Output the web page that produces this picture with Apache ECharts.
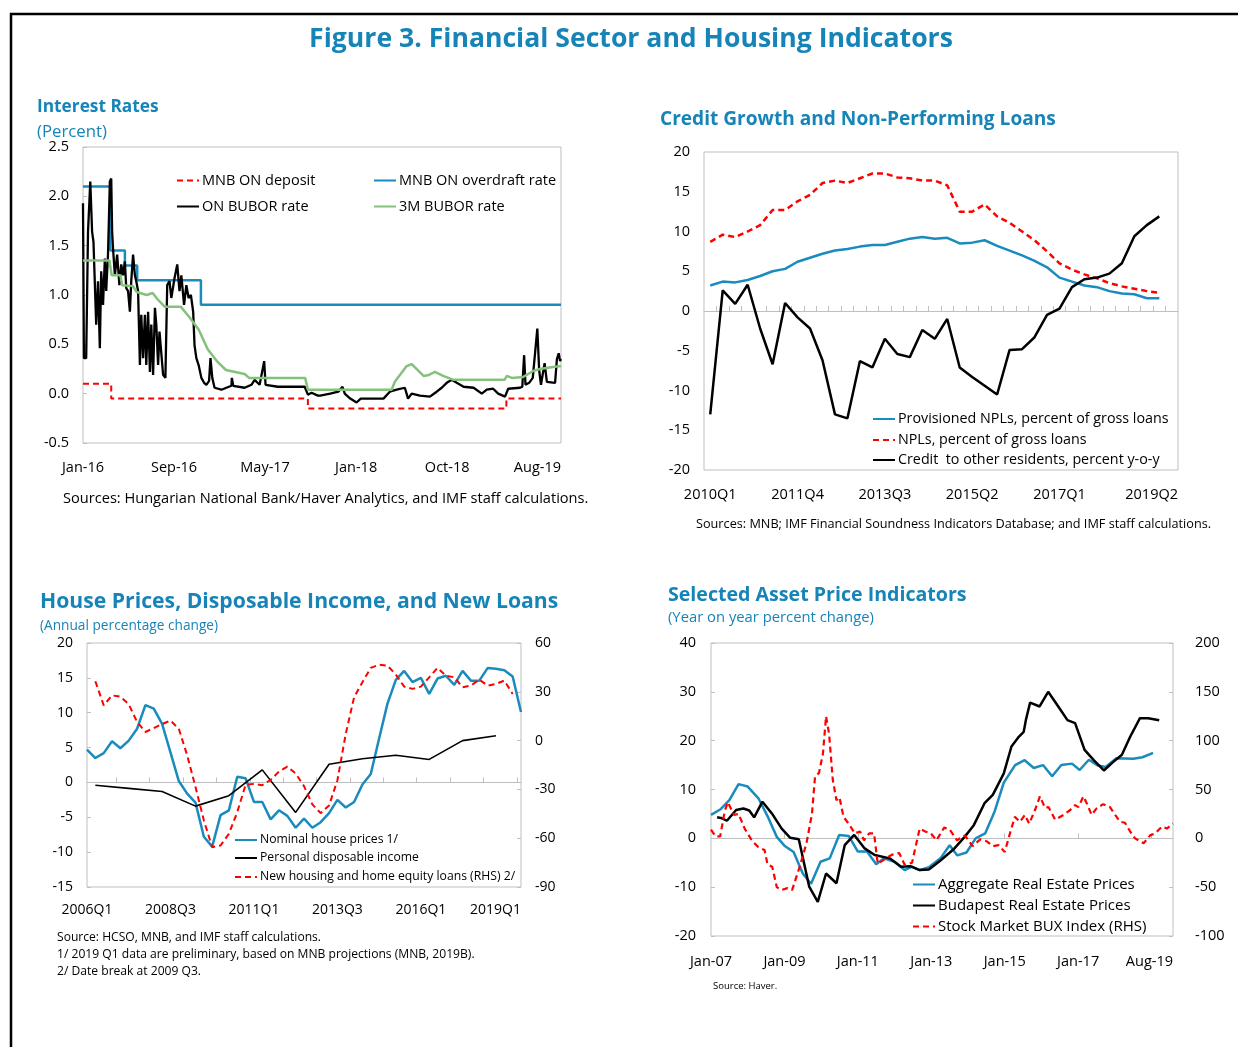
<!DOCTYPE html>
<html>
<head>
<meta charset="utf-8">
<title>Figure 3. Financial Sector and Housing Indicators</title>
<script src="https://cdn.jsdelivr.net/npm/echarts@6/dist/echarts.min.js"></script>
<style>
  html, body { margin: 0; padding: 0; background: #fff; }
  #fig { width: 1238px; height: 1047px; }
</style>
</head>
<body>
<div id="fig"></div>
<script>
// ---------- Interest rates (x = position along the daily sample) ----------
const rateTicks = [0, 20, 40, 60, 80, 105];
const rateTickLabels = ['Jan-16', 'Sep-16', 'May-17', 'Jan-18', 'Oct-18', 'Aug-19'];
const mnbDeposit = [[0, 0.1], [6.2, -0.05], [49.4, -0.15], [93, -0.05], [105, -0.05]];
const mnbOverdraft = [[0, 2.1], [6, 1.45], [9.2, 1.3], [11.9, 1.15], [25.9, 0.9], [105, 0.9]];
const onBubor = [
  [0, 1.93], [0.2, 0.36], [0.7, 0.36], [1.1, 1.64], [1.6, 2.15], [2, 1.64], [2.3, 1.54], [2.9, 0.7],
  [3.3, 1.14], [3.7, 0.46], [4, 1.24], [4.4, 0.9], [4.8, 1.37], [5.1, 1.04], [5.5, 1.42], [5.9, 2.15],
  [6.2, 2.18], [6.4, 1.64], [6.6, 1.47], [7, 1.2], [7.5, 1.41], [8, 1.1], [8.4, 1.31], [8.8, 1.2],
  [9.2, 1.34], [9.5, 1.07], [9.9, 1.04], [10.3, 0.83], [10.6, 1.14], [11, 1.41], [11.4, 1.2], [11.7, 1.14],
  [12.1, 1.04], [12.5, 0.29], [12.8, 0.8], [13.2, 0.36], [13.6, 0.8], [13.9, 0.29], [14.3, 0.83], [14.7, 0.22],
  [15, 0.7], [15.4, 0.19], [15.8, 0.87], [16.1, 0.7], [16.5, 0.29], [16.8, 0.63], [17.6, 0.19], [18.1, 0.16],
  [18.5, 1.1], [19, 1.14], [19.4, 0.97], [20.1, 1.17], [20.7, 1.31], [21.2, 1.04], [21.6, 1.2], [22.2, 0.9],
  [22.7, 1.1], [23.2, 0.97], [23.7, 1.0], [24.2, 0.83], [24.5, 0.49], [24.9, 0.36], [25.4, 0.29], [26, 0.16],
  [26.6, 0.11], [27.1, 0.09], [27.7, 0.13], [28, 0.36], [28.4, 0.16], [28.9, 0.06], [30.4, 0.04], [32.6, 0.08],
  [32.7, 0.16], [33, 0.08], [35.5, 0.06], [37, 0.09], [37.7, 0.14], [38.8, 0.09], [39.8, 0.33], [40.1, 0.09],
  [42.8, 0.07], [48.7, 0.07], [49.4, -0.01], [50.2, 0.01], [51.6, -0.02], [52.1, -0.02], [54.3, 0], [56.1, 0.02],
  [57, 0.07], [57.5, 0], [58.7, -0.05], [60.1, -0.09], [61, -0.05], [63, -0.05], [66, -0.05], [67.4, 0.02],
  [68.9, 0.04], [70.7, 0.06], [71.4, -0.05], [72.2, 0], [74, -0.02], [76.2, -0.03], [77.7, 0.02], [78.8, 0.06],
  [79.9, 0.11], [81, 0.14], [82.1, 0.11], [83.6, 0.07], [85.8, 0.06], [87.6, 0], [88.7, 0.04], [90.1, 0.05],
  [91.2, 0], [92.7, -0.03], [93.4, 0.05], [96, 0.06], [96.5, 0.07], [96.9, 0.39], [97.2, 0.09], [98, 0.11],
  [98.8, 0.16], [99.8, 0.66], [100.2, 0.24], [100.6, 0.09], [100.9, 0.07], [101.4, 0.31], [101.9, 0.12],
  [103.7, 0.11], [104.1, 0.35], [104.5, 0.41], [104.8, 0.33], [105, 0.35]
];
const bubor3m = [
  [0, 1.35], [5.8, 1.35], [6.3, 1.2], [8.2, 1.2], [8.6, 1.1], [11, 1.09], [11.8, 1.03], [12.5, 1.02],
  [14, 1.0], [15.3, 1.02], [16.5, 0.95], [18, 0.88], [21.5, 0.88], [23.3, 0.78], [25.4, 0.65], [27.4, 0.45],
  [29.4, 0.33], [31.4, 0.24], [35.5, 0.2], [36.5, 0.16], [48.8, 0.16], [49.4, 0.04], [67.8, 0.04], [68.5, 0.12],
  [71.1, 0.28], [72.2, 0.3], [73.7, 0.23], [74.8, 0.18], [76, 0.19], [77.3, 0.22], [79.1, 0.18], [81.4, 0.14],
  [92.6, 0.14], [93.1, 0.18], [94.2, 0.16], [96.7, 0.17], [98.9, 0.23], [100.4, 0.25], [103.3, 0.27], [105, 0.28]
];

// ---------- Credit growth and NPLs (quarterly, 2010Q1 = 0) ----------
const creditTicks = [0, 7, 14, 21, 28, 37.5];
const creditTickLabels = ['2010Q1', '2011Q4', '2013Q3', '2015Q2', '2017Q1', '2019Q2'];
const provisionedNpl = [3.2, 3.7, 3.6, 3.9, 4.4, 5.0, 5.3, 6.2, 6.7, 7.2, 7.6, 7.8, 8.1, 8.3, 8.3, 8.7, 9.1, 9.3, 9.1,
  9.2, 8.5, 8.6, 8.9, 8.2, 7.6, 7.0, 6.3, 5.5, 4.2, 3.7, 3.2, 3.0, 2.5, 2.2, 2.1, 1.6, 1.6];
const nplRatio = [8.7, 9.6, 9.3, 10.0, 10.8, 12.7, 12.7, 13.8, 14.6, 16.1, 16.4, 16.1, 16.7, 17.3, 17.3, 16.8, 16.7,
  16.4, 16.4, 15.8, 12.5, 12.5, 13.4, 11.9, 11.1, 10.0, 8.9, 7.5, 6.0, 5.2, 4.6, 4.1, 3.5, 3.1, 2.8, 2.5, 2.3];
const creditGrowth = [-13.0, 2.6, 0.9, 3.3, -2.2, -6.7, 1.0, -0.8, -2.2, -6.2, -13.0, -13.5, -6.3, -7.1, -3.5, -5.4,
  -5.8, -2.4, -3.5, -1.0, -7.1, -8.3, -9.4, -10.5, -4.9, -4.8, -3.3, -0.5, 0.3, 3.0, 4.0, 4.2, 4.7, 6.0, 9.4, 10.8, 11.9];

// ---------- House prices (quarterly, 2006Q1 = 0) ----------
const houseTicks = [0, 10, 20, 30, 40, 52];
const houseTickLabels = ['2006Q1', '2008Q3', '2011Q1', '2013Q3', '2016Q1', '2019Q1'];
const housePrices = [4.7, 3.5, 4.2, 5.9, 4.9, 6.0, 7.7, 11.1, 10.6, 8.4, 4.3, 0.2, -1.6, -2.9, -7.8, -9.2, -4.7, -4.0,
  0.8, 0.6, -2.8, -2.8, -5.3, -4.0, -4.8, -6.5, -5.2, -6.5, -5.7, -4.4, -2.5, -3.6, -2.8, -0.3, 1.2, 6.3, 11.3, 14.7,
  16.0, 14.4, 15.0, 12.7, 14.9, 15.3, 14.0, 16.0, 14.6, 14.6, 16.4, 16.3, 16.1, 15.2, 10.1];
const incomeQuarter = [1, 5, 9, 13, 17, 21, 25, 29, 33, 37, 41, 45, 49];
const incomeGrowth = [-0.4, -0.85, -1.3, -3.4, -1.9, 1.8, -4.3, 2.6, 3.4, 3.9, 3.3, 6.0, 6.7];
const newLoans = [null, 36.5, 21.7, 27.8, 27.0, 22.3, 11.5, 5.3, 7.7, 10.2, 12.3, 7.3, -9.0, -28.5, -49.0, -65.5, -64.5,
  -57.3, -44.0, -27.2, -26.6, -27.4, -24.2, -19.0, -16.0, -20.2, -28.0, -39.2, -44.6, -39.9, -24.5, 4.1, 26.6, 35.9,
  44.7, 46.7, 46.1, 40.6, 33.2, 31.8, 33.2, 38.9, 44.7, 39.9, 38.9, 32.8, 33.8, 37.5, 33.8, 34.8, 36.9, 28.7, null];

// ---------- Asset prices (x = months since Jan-07) ----------
const assetTicks = [0, 24, 48, 72, 96, 120, 151];
const assetTickLabels = ['Jan-07', 'Jan-09', 'Jan-11', 'Jan-13', 'Jan-15', 'Jan-17', 'Aug-19'];
const aggregatePrices = [
  [0, 4.8], [3, 5.9], [6, 7.8], [9, 11.1], [12, 10.6], [15.5, 8.2], [18.5, 4.5], [21.5, 0.3], [24, -1.5],
  [27, -2.8], [30, -7.2], [32.7, -9.3], [35.8, -4.8], [38.8, -4.1], [41.9, 0.7], [45, 0.5], [48, -2.7], [51, -2.7],
  [54, -5.3], [56.5, -4.1], [60, -4.8], [63.3, -6.5], [65.7, -5.8], [68.2, -6.5], [71.2, -5.9], [75, -4.1],
  [78, -1.4], [80.5, -3.5], [83.5, -2.9], [86.5, 0], [89.6, 1.0], [92.7, 5.5], [95.7, 11.4], [99.4, 15.0],
  [102.5, 16.0], [105.5, 14.4], [108.5, 15.0], [111.5, 12.7], [114.5, 15.0], [118, 15.3], [120.5, 14.0],
  [123.5, 16.1], [126.5, 14.9], [129, 14.6], [132.5, 16.4], [138, 16.3], [141, 16.6], [144.5, 17.5]
];
const budapestPrices = [
  [2, 4.3], [3.6, 4.1], [5.2, 3.6], [8.2, 5.8], [10.6, 6.1], [12.5, 5.7], [14.1, 4.3], [16.8, 7.5], [19.9, 5.1],
  [23.1, 2.0], [25.9, 0.1], [28.7, -0.2], [32.1, -9.9], [34.9, -13.0], [37.6, -7.2], [41, -9.2], [43.7, -1.4],
  [46.8, 0.7], [50.1, -2.0], [53.5, -3.4], [58.4, -4.1], [62.1, -5.8], [65.1, -5.7], [68.2, -6.5], [71.2, -6.4],
  [74.9, -4.6], [79.2, -2.3], [82.9, 0.3], [85.9, 2.7], [89.4, 7.2], [92.1, 8.9], [95.7, 13.3], [98.2, 18.8],
  [100.6, 20.8], [102.2, 21.8], [102.9, 24.2], [104.3, 27.8], [107.4, 27.0], [110.2, 30.0], [113.5, 27.0],
  [116.5, 24.2], [119, 23.6], [122.1, 18.1], [125.1, 16.0], [128.4, 13.9], [131.2, 15.5], [134.3, 17.1],
  [137, 20.8], [140.2, 24.6], [142.9, 24.6], [146.5, 24.2]
];
const buxIndex = [
  [0, 9], [1.5, 2], [3, 2], [4.5, 28], [5.5, 37], [7.5, 24], [9, 25], [11, 10], [13.5, -3], [15.5, -9],
  [17.5, -12], [18.5, -27], [20, -29], [21.5, -50], [23, -53], [25, -51], [26.5, -53], [29, -29], [31.2, -5],
  [33, 25], [34, 63], [35.3, 67], [36.6, 87], [37.6, 125], [38.6, 107], [39.8, 60], [41, 39], [42, 42],
  [43.3, 22], [45, 15], [47, 5], [48.7, 7], [50, -2], [51.7, 5], [53.3, 5], [54.5, -26], [56.5, -22], [59, -17],
  [61.5, -15], [63.3, -27], [65.7, -25], [68.2, 10], [70, 7], [71.9, 5], [73.7, -2], [76.2, 11], [78, 9],
  [80.4, -2], [83, 3], [85.5, -8], [88, -1], [90.1, -3], [92.2, -8], [94, -7], [96, -14], [97.7, 5], [99.3, 22],
  [101, 17], [102.6, 24], [104, 15], [105.9, 29], [107.5, 43], [109.2, 31], [110.3, 32], [112.5, 19],
  [115.2, 24], [117.4, 29], [119, 34], [120.1, 32], [121.7, 43], [122.8, 36], [124.4, 24], [126.1, 31],
  [128.2, 35], [130.4, 32], [132.1, 24], [133.7, 17], [135.3, 16], [137, 7], [138.6, 0], [141.4, -5],
  [143.5, 3], [145.2, 5], [147.4, 12], [149, 10], [151, 15]
];

const FONT = "'Open Sans', 'Noto Sans', sans-serif";
const BLUE = '#1a8bbd';
const TITLE_BLUE = '#1784b8';
const RED = '#ff0000';
const GREEN = '#84c17b';
const GRAY = '#bfbfbf';

function indexed(values) {
  return values.map((v, i) => [i, v]);
}
function tickFormatter(ticks, labels) {
  return v => {
    const k = ticks.indexOf(v);
    return k >= 0 ? labels[k] : '';
  };
}
function steps(from, to, step) {
  const out = [];
  for (let v = from; v <= to + 1e-9; v += step) out.push(v);
  return out;
}
function labelAxis(grid, min, max, ticks, labels, size, margin) {
  return {
    type: 'value', gridIndex: grid, min, max, position: 'bottom',
    axisLine: { show: false, onZero: false }, axisTick: { show: false }, splitLine: { show: false },
    axisLabel: {
      customValues: ticks, formatter: tickFormatter(ticks, labels), alignMaxLabel: 'right',
      fontSize: size, color: '#000', fontFamily: FONT, margin
    }
  };
}
function zeroAxis(grid, min, max, tickValues) {
  return {
    type: 'value', gridIndex: grid, min, max, position: 'top',
    axisLine: { show: true, onZero: true, lineStyle: { color: GRAY, width: 1 } },
    axisTick: { show: true, inside: false, length: 5, customValues: tickValues, lineStyle: { color: GRAY } },
    axisLabel: { show: false }, splitLine: { show: false }
  };
}
function valueAxis(grid, min, max, interval, pos, size, margin, ticks, digits) {
  return {
    type: 'value', gridIndex: grid, min, max, interval, position: pos,
    axisLine: { show: false, onZero: false },
    axisTick: { show: ticks, inside: true, length: 4, lineStyle: { color: GRAY } },
    splitLine: { show: false },
    axisLabel: {
      fontSize: size, color: '#000', fontFamily: FONT, margin,
      formatter: v => digits ? v.toFixed(digits) : String(v)
    }
  };
}
function line(name, data, color, width, x, y, extra) {
  return Object.assign({
    name, type: 'line', data, xAxisIndex: x, yAxisIndex: y, symbol: 'none', showSymbol: false,
    connectNulls: true, animation: false,
    lineStyle: { color, width }, itemStyle: { color }
  }, extra || {});
}
function dashed(name, data, x, y, width, extra) {
  const s = line(name, data, RED, width, x, y, extra);
  s.lineStyle.type = [6, 4];
  return s;
}
function legendAt(name, left, top, size) {
  return {
    data: [name], left, top, padding: 0, itemWidth: 22, itemHeight: 12, selectedMode: false,
    itemStyle: { opacity: 0 },
    textStyle: { fontSize: size, color: '#000', fontFamily: FONT, padding: [0, 0, 0, -2] }
  };
}
function text(str, x, y, size, opts) {
  const o = opts || {};
  return {
    type: 'text', x, y, silent: true,
    style: {
      text: str, fill: o.color || '#000', fontSize: size, fontFamily: o.font || FONT,
      fontWeight: o.bold ? 'bold' : 'normal',
      textAlign: o.align || 'left', align: o.align || 'left',
      textVerticalAlign: 'middle', verticalAlign: 'middle'
    }
  };
}

const gridBox = { show: true, borderColor: GRAY, borderWidth: 1, backgroundColor: 'transparent' };

const option = {
  animation: false,
  backgroundColor: '#ffffff',
  grid: [
    Object.assign({ left: 83, top: 147, width: 478, height: 296 }, gridBox),
    Object.assign({ left: 704, top: 152, width: 474, height: 318 }, gridBox),
    Object.assign({ left: 87, top: 643, width: 434, height: 244 }, gridBox),
    Object.assign({ left: 711, top: 643, width: 462, height: 293 }, gridBox)
  ],
  xAxis: [
    labelAxis(0, 0, 105, rateTicks, rateTickLabels, 14.5, 17),
    labelAxis(1, -0.5, 37.5, creditTicks, creditTickLabels, 14.5, 17),
    zeroAxis(1, -0.5, 37.5, steps(0.5, 36.5, 1)),
    labelAxis(2, 0, 52, houseTicks, houseTickLabels, 14, 16),
    zeroAxis(2, 0, 52, steps(3.5, 51.5, 4)),
    labelAxis(3, 0, 151, assetTicks, assetTickLabels, 14.5, 18),
    zeroAxis(3, 0, 151, steps(24, 144, 24))
  ],
  yAxis: [
    valueAxis(0, -0.5, 2.5, 0.5, 'left', 14.5, 14, true, 1),
    valueAxis(1, -20, 20, 5, 'left', 14.5, 14, false, 0),
    valueAxis(2, -15, 20, 5, 'left', 14, 14, true, 0),
    valueAxis(2, -90, 60, 30, 'right', 14, 14, true, 0),
    valueAxis(3, -20, 40, 10, 'left', 14.5, 15, true, 0),
    valueAxis(3, -100, 200, 50, 'right', 14.5, 22, true, 0)
  ],
  legend: [
    legendAt('MNB ON deposit', 176, 173, 14.5),
    legendAt('MNB ON overdraft rate', 373, 173, 14.5),
    legendAt('ON BUBOR rate', 176, 199, 14.5),
    legendAt('3M BUBOR rate', 373, 199, 14.5),
    legendAt('Provisioned NPLs, percent of gross loans', 872, 412, 14.3),
    legendAt('NPLs, percent of gross loans', 872, 433, 14.3),
    legendAt('Credit  to other residents, percent y-o-y', 872, 453, 14.3),
    legendAt('Nominal house prices 1/', 234, 834, 12.2),
    legendAt('Personal disposable income', 234, 852, 12.2),
    legendAt('New housing and home equity loans (RHS) 2/', 234, 871, 12.2),
    legendAt('Aggregate Real Estate Prices', 912, 877, 15),
    legendAt('Budapest Real Estate Prices', 912, 898, 15),
    legendAt('Stock Market BUX Index (RHS)', 912, 919, 15)
  ],
  series: [
    dashed('MNB ON deposit', mnbDeposit, 0, 0, 2, { step: 'end' }),
    line('MNB ON overdraft rate', mnbOverdraft, BLUE, 2.5, 0, 0, { step: 'end' }),
    line('ON BUBOR rate', onBubor, '#000', 2.3, 0, 0),
    line('3M BUBOR rate', bubor3m, GREEN, 2.5, 0, 0),

    line('Provisioned NPLs, percent of gross loans', indexed(provisionedNpl), BLUE, 2.5, 1, 1),
    dashed('NPLs, percent of gross loans', indexed(nplRatio), 1, 1, 2.5),
    line('Credit  to other residents, percent y-o-y', indexed(creditGrowth), '#000', 2.5, 1, 1),

    line('Nominal house prices 1/', indexed(housePrices), BLUE, 2.5, 3, 2),
    line('Personal disposable income', incomeQuarter.map((q, i) => [q, incomeGrowth[i]]), '#000', 1.6, 3, 2),
    dashed('New housing and home equity loans (RHS) 2/', indexed(newLoans), 3, 3, 2),

    line('Aggregate Real Estate Prices', aggregatePrices, BLUE, 2.5, 5, 4),
    line('Budapest Real Estate Prices', budapestPrices, '#000', 2.5, 5, 4),
    dashed('Stock Market BUX Index (RHS)', buxIndex, 5, 5, 2.2)
  ],
  graphic: [
    { type: 'polyline', silent: true, shape: { points: [[11, 1047], [11, 14], [1238, 14]] },
      style: { stroke: '#000', lineWidth: 2.5, fill: null } },
    text('Figure 3. Financial Sector and Housing Indicators', 631, 39, 26.6, { bold: true, color: TITLE_BLUE, align: 'center' }),

    text('Interest Rates', 37, 107, 17.3, { bold: true, color: TITLE_BLUE }),
    text('(Percent)', 37, 132, 16.8, { color: TITLE_BLUE }),
    text('Sources: Hungarian National Bank/Haver Analytics, and IMF staff calculations.', 63, 499, 14.6),

    text('Credit Growth and Non-Performing Loans', 660, 120, 19.1, { bold: true, color: TITLE_BLUE }),
    text('Sources: MNB; IMF Financial Soundness Indicators Database; and IMF staff calculations.', 696, 524, 12.7),

    text('House Prices, Disposable Income, and New Loans', 40, 602, 21.2, { bold: true, color: TITLE_BLUE }),
    text('(Annual percentage change)', 40, 626, 13.7, { color: TITLE_BLUE }),
    text('Source: HCSO, MNB, and IMF staff calculations.', 57, 938, 12.1),
    text('1/ 2019 Q1 data are preliminary, based on MNB projections (MNB, 2019B).', 57, 955, 12.1),
    text('2/ Date break at 2009 Q3.', 57, 972, 12.1),

    text('Selected Asset Price Indicators', 668, 595, 19.6, { bold: true, color: TITLE_BLUE }),
    text('(Year on year percent change)', 668, 618, 14.8, { color: TITLE_BLUE }),
    text('Source: Haver.', 713, 986, 9.5)
  ]
};

const chart = echarts.init(document.getElementById('fig'), null, { renderer: 'canvas' });
chart.setOption(option);
</script>
</body>
</html>
